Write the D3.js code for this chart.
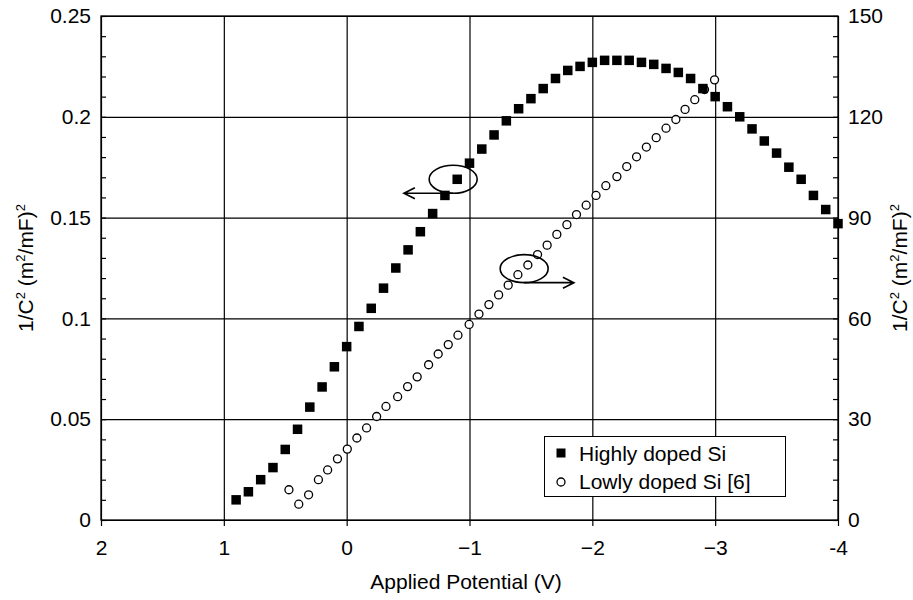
<!DOCTYPE html>
<html>
<head>
<meta charset="utf-8">
<script src="https://cdn.jsdelivr.net/npm/d3@7"></script>
<style>
  body { margin: 0; background: #fff; }
  svg { display: block; font-family: "Liberation Sans", Arial, sans-serif; }
</style>
</head>
<body>
<svg id="chart"></svg>
<script>
// highly doped Si, left axis (1/C^2 in (m^2/mF)^2)
const highV = [0.9, 0.8, 0.7, 0.6, 0.5, 0.4, 0.3, 0.2, 0.1, 0.0,
               -0.1, -0.2, -0.3, -0.4, -0.5, -0.6, -0.7, -0.8, -0.9, -1.0,
               -1.1, -1.2, -1.3, -1.4, -1.5, -1.6, -1.7, -1.8, -1.9, -2.0,
               -2.1, -2.2, -2.3, -2.4, -2.5, -2.6, -2.7, -2.8, -2.9, -3.0,
               -3.1, -3.2, -3.3, -3.4, -3.5, -3.6, -3.7, -3.8, -3.9, -4.0];
const highC = [0.010, 0.014, 0.020, 0.026, 0.035, 0.045, 0.056, 0.066, 0.076, 0.086,
               0.096, 0.105, 0.115, 0.125, 0.134, 0.143, 0.152, 0.161, 0.169, 0.177,
               0.184, 0.191, 0.198, 0.204, 0.209, 0.214, 0.219, 0.223, 0.225, 0.227,
               0.228, 0.228, 0.228, 0.227, 0.226, 0.224, 0.222, 0.219, 0.214, 0.210,
               0.205, 0.200, 0.194, 0.188, 0.182, 0.175, 0.169, 0.161, 0.154, 0.147];

// lowly doped Si [6], right axis
const lowV = [0.47, 0.39, 0.31, 0.23, 0.155, 0.075, -0.005, -0.083, -0.162, -0.244,
              -0.32, -0.415, -0.496, -0.574, -0.667, -0.745, -0.827, -0.906, -0.997, -1.077,
              -1.158, -1.237, -1.315, -1.394, -1.475, -1.554, -1.632, -1.711, -1.793, -1.871,
              -1.95, -2.03, -2.11, -2.20, -2.28, -2.36, -2.44, -2.52, -2.60, -2.68,
              -2.755, -2.834, -2.913, -2.995];
const lowC = [9.0, 4.7, 7.5, 12.0, 14.9, 18.2, 21.1, 24.4, 27.4, 30.8,
              33.8, 36.7, 39.7, 42.6, 46.2, 49.4, 52.2, 55.0, 58.2, 61.3,
              64.1, 67.0, 69.9, 73.0, 75.9, 79.0, 81.8, 85.0, 87.9, 90.9,
              93.7, 96.6, 99.5, 102.2, 105.2, 108.1, 111.0, 113.8, 116.6, 119.2,
              122.2, 125.1, 128.1, 131.0];

const xTicks = [2, 1, 0, -1, -2, -3, -4];
const xTickLabels = ["2", "1", "0", "\u22121", "\u22122", "\u22123", "-4"];
const yLeftTicks = [0, 0.05, 0.1, 0.15, 0.2, 0.25];
const yLeftLabels = ["0", "0.05", "0.1", "0.15", "0.2", "0.25"];
const yRightTicks = [0, 30, 60, 90, 120, 150];

const seriesNames = ["Highly doped Si", "Lowly doped Si [6]"];

const width = 913, height = 600;
const plot = { left: 101, right: 838, top: 16, bottom: 520 };

const svg = d3.select("#chart").attr("width", width).attr("height", height);

const x = d3.scaleLinear().domain([2, -4]).range([plot.left, plot.right]);
const yL = d3.scaleLinear().domain([0, 0.25]).range([plot.bottom, plot.top]);
const yR = d3.scaleLinear().domain([0, 150]).range([plot.bottom, plot.top]);

const plotW = plot.right - plot.left;
const plotH = plot.bottom - plot.top;

// minor ticks (inward)
svg.append("g")
    .attr("transform", `translate(${plot.left},0)`)
    .call(d3.axisLeft(yL).tickValues(d3.range(0, 0.2501, 0.01)).tickSize(-5).tickFormat(""))
    .call(g => g.select(".domain").remove())
    .selectAll("line").attr("stroke", "#000").attr("stroke-width", 1.2);

svg.append("g")
    .attr("transform", `translate(${plot.right},0)`)
    .call(d3.axisRight(yR).tickValues(d3.range(0, 151, 6)).tickSize(-5).tickFormat(""))
    .call(g => g.select(".domain").remove())
    .selectAll("line").attr("stroke", "#000").attr("stroke-width", 1.2);

// horizontal grid + left labels
svg.append("g")
    .attr("transform", `translate(${plot.left},0)`)
    .call(d3.axisLeft(yL).tickValues(yLeftTicks).tickSize(-plotW).tickPadding(10)
        .tickFormat((d, i) => yLeftLabels[i]))
    .call(g => g.select(".domain").remove())
    .call(g => g.selectAll("line").attr("stroke", "#000").attr("stroke-width", 1.2))
    .call(g => g.selectAll("text").attr("font-size", 21).attr("fill", "#000")
        .attr("font-family", "Liberation Sans, Arial, sans-serif"));

// right labels
svg.append("g")
    .attr("transform", `translate(${plot.right},0)`)
    .call(d3.axisRight(yR).tickValues(yRightTicks).tickSize(0).tickPadding(10))
    .call(g => g.select(".domain").remove())
    .call(g => g.selectAll("text").attr("font-size", 21).attr("fill", "#000")
        .attr("font-family", "Liberation Sans, Arial, sans-serif"));

// vertical grid + bottom labels (ticks stick out 6px below)
svg.append("g")
    .attr("transform", `translate(0,${plot.bottom})`)
    .call(d3.axisBottom(x).tickValues(xTicks).tickSizeInner(6).tickPadding(14)
        .tickFormat((d, i) => xTickLabels[i]))
    .call(g => g.select(".domain").remove())
    .call(g => g.selectAll("line").attr("y1", -plotH).attr("stroke", "#000").attr("stroke-width", 1.2))
    .call(g => g.selectAll("text").attr("font-size", 21).attr("fill", "#000")
        .attr("font-family", "Liberation Sans, Arial, sans-serif"));

// frame
svg.append("rect")
    .attr("x", plot.left).attr("y", plot.top)
    .attr("width", plotW).attr("height", plotH)
    .attr("fill", "none").attr("stroke", "#000").attr("stroke-width", 1.3);

// axis titles
svg.append("text")
    .attr("x", 466).attr("y", 589)
    .attr("text-anchor", "middle").attr("font-size", 21)
    .text("Applied Potential (V)");

function yTitle(xPos) {
    const t = svg.append("text")
        .attr("transform", `translate(${xPos},${(plot.top + plot.bottom) / 2}) rotate(-90)`)
        .attr("text-anchor", "middle").attr("font-size", 21);
    t.append("tspan").text("1/C");
    t.append("tspan").attr("font-size", 13).attr("dy", -8).text("2");
    t.append("tspan").attr("dy", 8).text(" (m");
    t.append("tspan").attr("font-size", 13).attr("dy", -8).text("2");
    t.append("tspan").attr("dy", 8).text("/mF)");
    t.append("tspan").attr("font-size", 13).attr("dy", -8).text("2");
}
yTitle(33);
yTitle(907);

// lowly doped circles
const lowData = lowV.map((v, i) => ({ v, c: lowC[i] }));
svg.append("g")
    .selectAll("circle")
    .data(lowData)
    .enter()
    .append("circle")
    .attr("cx", d => x(d.v))
    .attr("cy", d => yR(d.c))
    .attr("r", 4)
    .attr("fill", "#fff")
    .attr("stroke", "#000")
    .attr("stroke-width", 1.3);

// highly doped squares
const sq = 9.5;
const highData = highV.map((v, i) => ({ v, c: highC[i] }));
svg.append("g")
    .selectAll("rect")
    .data(highData)
    .enter()
    .append("rect")
    .attr("x", d => x(d.v) - sq / 2)
    .attr("y", d => yL(d.c) - sq / 2)
    .attr("width", sq)
    .attr("height", sq)
    .attr("fill", "#000");

// annotations: ellipse + arrow pointing to the matching axis
function annotate(cx, cy, tipX) {
    const rx = 24, ry = 14;
    svg.append("ellipse")
        .attr("cx", cx).attr("cy", cy).attr("rx", rx).attr("ry", ry)
        .attr("fill", "none").attr("stroke", "#000").attr("stroke-width", 1.6);
    const yl = cy + ry;
    const dir = tipX < cx ? 1 : -1;
    svg.append("path")
        .attr("d", `M${cx},${yl}H${tipX}M${tipX + dir * 11},${yl - 5.5}L${tipX},${yl}L${tipX + dir * 11},${yl + 5.5}`)
        .attr("fill", "none").attr("stroke", "#000").attr("stroke-width", 1.6);
}
annotate(x(-0.867), yL(0.169), x(-0.466));
annotate(x(-1.445), yR(74.8), x(-1.85));

// legend
const legend = svg.append("g");
legend.append("rect")
    .attr("x", 544.5).attr("y", 436.5).attr("width", 241).attr("height", 60)
    .attr("fill", "#fff").attr("stroke", "#000").attr("stroke-width", 1);
legend.append("rect")
    .attr("x", 561 - 4.5).attr("y", 453 - 4.5).attr("width", 9).attr("height", 9)
    .attr("fill", "#000");
legend.append("circle")
    .attr("cx", 561).attr("cy", 482).attr("r", 4)
    .attr("fill", "#fff").attr("stroke", "#000").attr("stroke-width", 1.3);
legend.selectAll("text.item")
    .data(seriesNames)
    .enter()
    .append("text")
    .attr("class", "item")
    .attr("x", 579)
    .attr("y", (d, i) => 460.5 + i * 28.5)
    .attr("font-size", 21)
    .text(d => d);
</script>
</body>
</html>
